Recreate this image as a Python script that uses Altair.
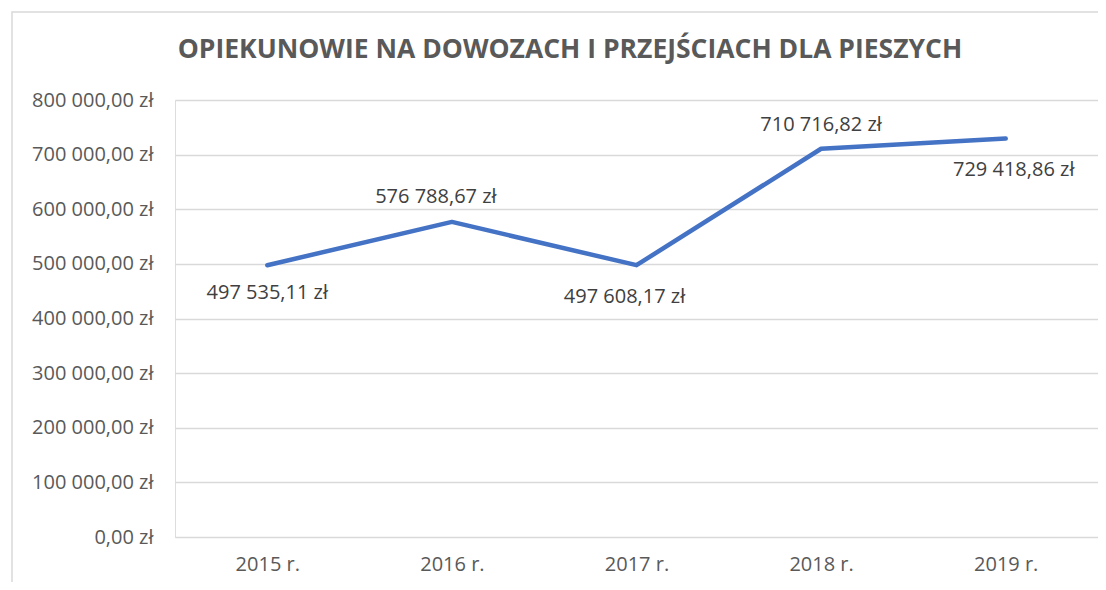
import altair as alt
import pandas as pd

years = ["2015 r.", "2016 r.", "2017 r.", "2018 r.", "2019 r."]
values = [497535.11, 576788.67, 497608.17, 710716.82, 729418.86]
value_labels = ["497 535,11 zł", "576 788,67 zł", "497 608,17 zł", "710 716,82 zł", "729 418,86 zł"]
y_ticks = [0, 100000, 200000, 300000, 400000, 500000, 600000, 700000, 800000]
title_text = "OPIEKUNOWIE NA DOWOZACH I PRZEJŚCIACH DLA PIESZYCH"

df = pd.DataFrame({"year": years, "value": values, "label": value_labels})

FONT = "Open Sans"
W, H = 923, 437

x_enc = alt.X("year:N", sort=years, title=None,
              scale=alt.Scale(type="point", padding=0.5),
              axis=alt.Axis(labelAngle=0, ticks=False, domain=False, grid=False,
                            labelFont=FONT, labelFontSize=20, labelColor="#595959",
                            labelPadding=17))
y_enc = alt.Y("value:Q", title=None,
              scale=alt.Scale(domain=[0, 800000], nice=False, zero=True),
              axis=alt.Axis(values=y_ticks, ticks=False, domain=False,
                            grid=True, gridColor="#d9d9d9", gridWidth=1.5,
                            labelFont=FONT, labelFontSize=20, labelColor="#595959",
                            labelPadding=22,
                            labelExpr="replace(replace(format(datum.value, ',.2f'), regexp(',', 'g'), ' '), '.', ',') + ' zł'"))

base = alt.Chart(df)

border = base.mark_rect(fill=None, stroke="#d9d9d9", strokeWidth=1.5).encode(
    x=alt.value(-163), x2=alt.value(1000), y=alt.value(-88), y2=alt.value(700)
).transform_filter("datum.year == '2015 r.'")

title = base.mark_text(font=FONT, fontSize=26.5, fontWeight="bold", color="#595959",
                       align="center", baseline="alphabetic").encode(
    x=alt.value(395), y=alt.value(-42), text=alt.value(title_text)
).transform_filter("datum.year == '2015 r.'")

line = base.mark_line(color="#4472C4", strokeWidth=4.5, strokeCap="round",
                      strokeJoin="round").encode(x=x_enc, y=y_enc)

# label placement (dx, dy) per category, as in the reference
label_offsets = {
    "2015 r.": (0, 28),
    "2016 r.": (-16, -25),
    "2017 r.": (-12, 32),
    "2018 r.": (0, -24),
    "2019 r.": (8, 31),
}
label_layers = []
for yr, (dx, dy) in label_offsets.items():
    label_layers.append(
        base.mark_text(font=FONT, fontSize=20, color="#404040", align="center",
                       baseline="middle", dx=dx, dy=dy)
        .encode(x=alt.X("year:N", sort=years, scale=alt.Scale(type="point", padding=0.5)),
                y=alt.Y("value:Q", scale=alt.Scale(domain=[0, 800000])),
                text="label:N")
        .transform_filter(alt.datum.year == yr)
    )

chart = alt.layer(border, line, *label_layers, title).properties(
    width=W, height=H,
    autosize=alt.AutoSizeParams(type="none"),
    padding={"left": 167, "top": 92, "right": 0, "bottom": 45},
).configure_view(stroke=None).configure(background="white")

chart.save("out.html", embed_options={"renderer": "svg", "actions": False})
